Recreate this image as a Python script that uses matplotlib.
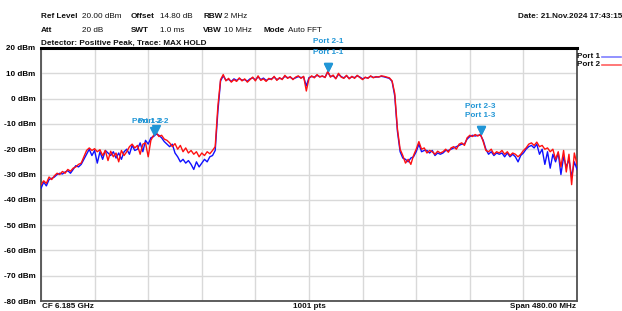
import numpy as np
import matplotlib
matplotlib.use("Agg")
import matplotlib.pyplot as plt
from matplotlib.lines import Line2D
import matplotlib.transforms as mtransforms

plt.rcParams['font.family'] = ['Liberation Sans', 'DejaVu Sans']

# ---------------- data ----------------
n_points = 1001
port2_dbm = [
    -34, -32.5, -33.5, -31, -32, -30.5, -29.5, -30, -28.8, -29.5,
    -28, -28.7, -27.5, -27, -26, -25.5, -23, -20.5, -19.5, -20.5,
    -19.8, -21, -20.2, -22.5, -20.5, -24.5, -20.8, -23, -21.5, -25,
    -20.5, -22.5, -21, -19, -18, -19.5, -18.5, -22, -18, -17.5,
    -23, -16.5, -14.5, -13.5, -15, -14.5, -16, -16.5, -17.5, -19,
    -17.8, -20, -18.5, -21, -19.5, -21.5, -20.5, -22, -21, -23,
    -21.5, -22.5, -21, -21.8, -20.5, -19, -3, 7.5, 9.5, 7,
    8, 6.5, 7.5, 6.8, 8.2, 7, 7.8, 6.5, 7.5, 8.5,
    7, 9, 7.2, 7.8, 6.8, 8, 7.5, 8.8, 7.2, 8.3,
    7.5, 9.2, 8, 8.7, 7.5, 8.5, 9, 8, 8.8, 3,
    8, 9, 8.2, 9.5, 8.5, 9, 8.3, 10.8, 8.5, 9.3,
    7.8, 10, 8.5, 8, 9.2, 7.8, 8.8, 8, 9.2, 8.3,
    7.5, 8.5, 8, 9, 8.2, 8.7, 8.5, 9, 8.8, 8.5,
    8.2, 7, 2, -12, -20, -22.5, -25.5, -24, -26, -22.5,
    -20, -17, -20, -19.5, -21.5, -20.5, -21, -22, -20.8, -21.5,
    -21, -20, -21.2, -19.5, -19, -20, -18, -17.5, -18.5, -15.5,
    -14.5, -15, -14.2, -14.8, -14, -17, -20.5, -21, -20, -22,
    -21, -21.5, -20.5, -22, -21, -22.5, -21.5, -22, -23, -22,
    -20.5, -19.5, -18, -17.5, -18.5, -17.2, -19, -18.5, -20, -19.5,
    -21, -20, -24, -21, -27, -20.5, -29, -22, -34, -21.5,
    -26,
]
port1_dbm = [
    -35.5, -33, -34.5, -32, -31.5, -31, -30, -29.5, -29.8, -29,
    -28.5, -29.5, -28, -26.5, -27, -26, -24, -22, -20, -22.5,
    -20.5, -25.5, -21, -24, -20.5, -21.5, -22.5, -21, -23.5, -21.5,
    -24, -21, -20, -22, -18.5, -20.5, -20, -17.5, -21, -16.5,
    -18, -15.5, -15, -14, -14.5, -15.5, -17, -18, -19, -18,
    -21.5, -23, -25, -24, -25.5, -24.5, -26, -28, -25, -27,
    -25.5, -24, -25, -23, -22.5, -20.5, -5, 7, 9, 7.3,
    7.6, 6.8, 7.8, 7.2, 7.9, 7.3, 7.5, 6.9, 7.8, 8.2,
    7.4, 8.6, 7.5, 8.1, 7.2, 7.7, 7.8, 8.5, 7.5, 8,
    7.8, 8.8, 8.3, 8.4, 7.8, 8.2, 8.7, 8.3, 8.5, 5,
    8.3, 8.7, 8.5, 9.2, 8.7, 8.8, 8.5, 10.5, 8.7, 9,
    8, 9.6, 8.7, 8.2, 9, 8, 8.6, 8.3, 9, 8.5,
    7.8, 8.3, 8.2, 8.8, 8.4, 8.5, 8.6, 8.8, 8.6, 8.3,
    8, 6.8, 1, -13, -21, -23.5, -24, -25, -23.5, -23,
    -21, -18, -21, -20.5, -20.5, -21.5, -20.5, -22.5, -21.5, -22,
    -21.5, -20.5, -20.5, -20, -19.5, -19, -18.5, -18, -18, -16,
    -15, -14.5, -14.8, -14.5, -14.5, -16.5, -20, -22, -21, -22.5,
    -21.5, -22, -21.5, -23, -21.5, -23, -22, -23, -25, -22.5,
    -21.5, -20, -19, -18.5, -19.5, -18, -22, -20, -26, -21,
    -27.5, -22, -25, -21.5, -30, -23, -27, -24, -31, -25,
    -28,
]
y_ticks = [20, 10, 0, -10, -20, -30, -40, -50, -60, -70, -80]
y_tick_labels = [f"{v} dBm" for v in y_ticks]
marker_idx_port1 = [42, 107, 164]
marker_idx_port2 = [43, 107, 164]
marker_names_port1 = ["Port 1-2", "Port 1-1", "Port 1-3"]
marker_names_port2 = ["Port 2-2", "Port 2-1", "Port 2-3"]

# ---------------- figure ----------------
W, H = 622, 311
fig = plt.figure(figsize=(W / 100, H / 100), dpi=100)

def fx(px):
    return px / W

def fy(py):
    return 1 - py / H

ax = fig.add_axes([fx(41), fy(301), fx(577) - fx(41), fy(48) - fy(301)])

x = np.linspace(0, n_points - 1, len(port1_dbm))
ax.plot(x, port1_dbm, color='#1010ff', lw=1.0, zorder=3)
ax.plot(x, port2_dbm, color='#ff1010', lw=1.0, zorder=4)

ax.set_xlim(0, n_points - 1)
ax.set_ylim(-80, 20)
ax.set_xticks(np.linspace(0, n_points - 1, 11))
ax.set_xticklabels([])
ax.set_yticks(y_ticks)
ax.set_yticklabels(y_tick_labels, fontsize=5.8, fontweight='bold')
ax.tick_params(length=0, pad=4)
ax.grid(True, color='#d9d9d9', lw=1.0, zorder=0)
for s in ['left', 'bottom', 'right']:
    ax.spines[s].set_color('#505050')
    ax.spines[s].set_linewidth(1.3)
ax.spines['top'].set_color('#000000')
ax.spines['top'].set_linewidth(2.2)

# markers
mcol = '#2196d6'
tri_tf = mtransforms.offset_copy(ax.transData, fig=fig, x=0, y=4, units='dots')
for idxs, names, dx_label, dys in [
    (marker_idx_port1, marker_names_port1, [-6, 0, 0], [5.5, 11, 11]),
    (marker_idx_port2, marker_names_port2, [-3, 0, 0], [3, 22, 20]),
]:
    for j, (k, name) in enumerate(zip(idxs, names)):
        xv = x[k]
        yv = max(port1_dbm[k], port2_dbm[k])
        ax.plot([xv], [yv], marker='v', ms=6, color=mcol, transform=tri_tf,
                zorder=6, clip_on=False)
        ax.annotate(name, (xv, yv), xytext=(dx_label[j], dys[j] + 8),
                    textcoords='offset pixels', ha='center', va='center',
                    fontsize=5.9, fontweight='bold', color=mcol, zorder=7,
                    annotation_clip=False)

# header
hs = 5.9
def t(px, py, s, bold=False, ha='left', size=hs):
    fig.text(fx(px), fy(py), s, fontsize=size, fontweight='bold' if bold else 'normal',
             ha=ha, va='center', color='#111111')

t(41, 17, "Ref Level", True); t(82, 17, "20.00 dBm")
t(131, 17, "Offset", True); t(160, 17, "14.80 dB")
t(203, 17, "RBW", True); t(224, 17, "2 MHz")
t(622, 17, "Date: 21.Nov.2024 17:43:15", True, ha='right')
t(41, 31, "Att", True); t(82, 31, "20 dB")
t(131, 31, "SWT", True); t(160, 31, "1.0 ms")
t(203, 31, "VBW", True); t(224, 31, "10 MHz")
t(263, 31, "Mode", True); t(288, 31, "Auto FFT")
t(41, 43, "Detector: Positive Peak, Trace: MAX HOLD", True)

# bottom
t(42, 307, "CF 6.185 GHz", True)
t(309, 307, "1001 pts", True, ha='center')
t(576, 307, "Span 480.00 MHz", True, ha='right')

# legend
t(577, 57, "Port 1", True)
t(577, 65, "Port 2", True)
fig.add_artist(Line2D([fx(602), fx(621)], [fy(57), fy(57)], color='#7f7fff', lw=1.2))
fig.add_artist(Line2D([fx(602), fx(621)], [fy(65), fy(65)], color='#ff6060', lw=1.2))

fig.savefig("out.png", dpi=100)
